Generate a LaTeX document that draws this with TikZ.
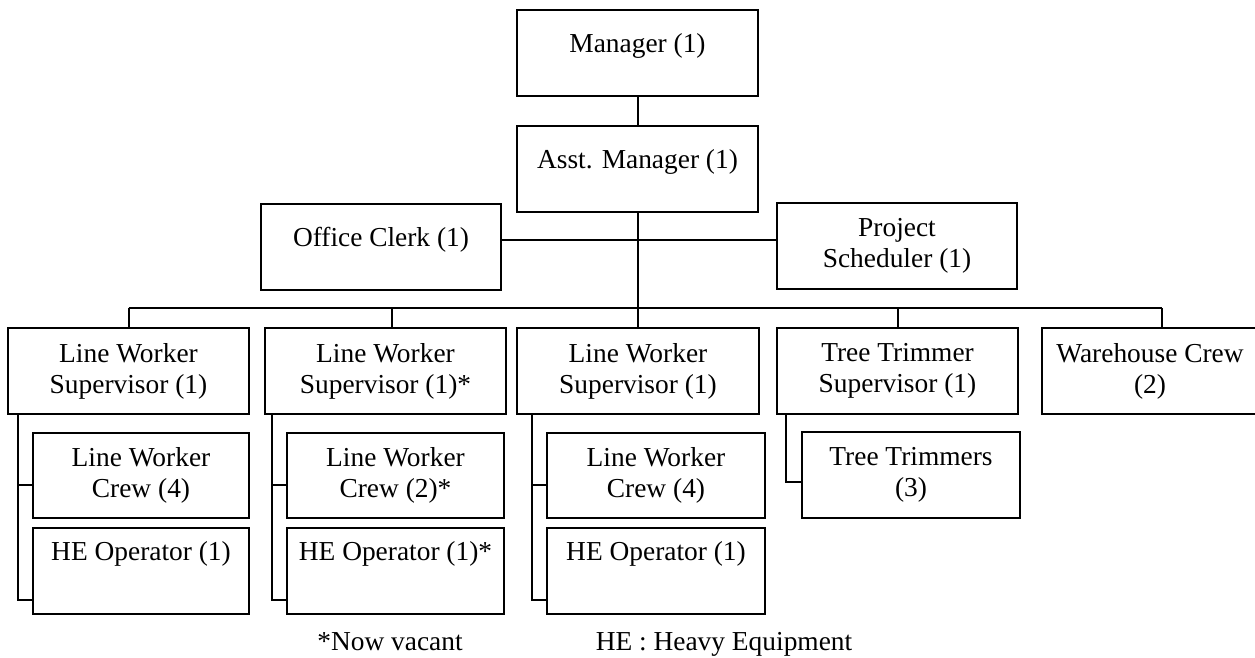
\documentclass[tikz,border=0pt]{standalone}
\usepackage{fontspec}
\setmainfont{Liberation Serif}
\usetikzlibrary{positioning}
\tikzset{
    mybox/.style = {rectangle, line width=2pt, draw=black, align=center, inner sep=0pt, minimum height=86pt, font=\fontsize{27.4pt}{31pt}\selectfont, text=black},
    myboxs/.style = {mybox, text height=19pt, text depth=19pt}, % one line
    mytext/.style = {inner sep=0pt, anchor=base, font=\fontsize{27.4pt}{31pt}\selectfont},
    edgen/.style = {-, line width=2pt, black}
}

\begin{document}
\begin{tikzpicture}[x=1pt,y=1pt]
\useasboundingbox (0,0) rectangle (1255,657);

\node[myboxs, minimum width=241pt] at ( 637.5, 604) (mgr) {Manager (1)};
\node[myboxs, minimum width=241pt] at ( 637.5, 488) (asst) {Asst. Manager (1)};
\node[myboxs, minimum width=240pt] at ( 381.0, 410) (clerk) {Office Clerk (1)};
\node[mybox, minimum width=240pt] at ( 897.0, 411) (sched) {Project\\Scheduler (1)};

\node[mybox, minimum width=241pt] at ( 128.5, 286) (lws1) {Line Worker\\Supervisor (1)};
\node[mybox, minimum width=241pt] at ( 385.5, 286) (lws2) {Line Worker\\Supervisor (1)*};
\node[mybox, minimum width=242pt] at ( 638.0, 286) (lws3) {Line Worker\\Supervisor (1)};
\node[mybox, minimum width=241pt] at ( 897.5, 286) (tts) {Tree Trimmer\\Supervisor (1)};
\node[mybox, minimum width=216pt] at (1150.0, 286) (wh) {Warehouse Crew\\(2)};

\node[mybox, minimum width=216pt, minimum height=85pt] at ( 141.0, 181.5) (lwc1) {Line Worker\\Crew (4)};
\node[mybox, minimum width=216pt] at ( 141.0,  86) (he1) {HE Operator (1)\\\strut};
\node[mybox, minimum width=217pt, minimum height=85pt] at ( 395.5, 181.5) (lwc2) {Line Worker\\Crew (2)*};
\node[mybox, minimum width=217pt] at ( 395.5,  86) (he2) {HE Operator (1)*\\\strut};
\node[mybox, minimum width=218pt, minimum height=85pt] at ( 656.0, 181.5) (lwc3) {Line Worker\\Crew (4)};
\node[mybox, minimum width=218pt] at ( 656.0,  86) (he3) {HE Operator (1)\\\strut};
\node[mybox, minimum width=218pt, minimum height=86pt] at ( 911.0, 182) (trim) {Tree Trimmers\\(3)};

\node[mytext] at (390, 7) (vac) {*Now vacant};
\node[mytext] at (724, 7) (he) {HE : Heavy Equipment};

% top part
\coordinate (hub) at (637.5, 417);
\coordinate (bus) at (637.5, 349);
\draw[edgen] (mgr) -- (asst);
\draw[edgen] (asst) -- (bus);
\draw[edgen] (clerk.east |- hub) -- (sched.west |- hub);

% bus to supervisors
\coordinate (lws2top) at ([xshift=6.5pt]lws2.north);
\coordinate (whtop) at ([xshift=12pt]wh.north);
\draw[edgen] (lws1.north |- bus) -- (whtop |- bus);
\draw[edgen] (lws1.north |- bus) -- (lws1.north);
\draw[edgen] (lws2top |- bus) -- (lws2top);
\draw[edgen] (lws3.north |- bus) -- (lws3.north);
\draw[edgen] (tts.north |- bus) -- (tts.north);
\draw[edgen] (whtop |- bus) -- (whtop);

% crews
\coordinate (s1) at ([xshift=11pt]lws1.south west);
\coordinate (s2) at ([xshift=8pt]lws2.south west);
\coordinate (s3) at ([xshift=16pt]lws3.south west);
\coordinate (s4) at ([xshift=10pt]tts.south west);
\coordinate (b1) at ([yshift=-9.5pt]lwc1.west);
\coordinate (b2) at ([yshift=-9.5pt]lwc2.west);
\coordinate (b3) at ([yshift=-9.5pt]lwc3.west);
\coordinate (b4) at ([yshift=-7pt]trim.west);
\draw[edgen] (s1) |- ([yshift=-29pt]he1.west);
\draw[edgen] (s1 |- b1) -- (b1);
\draw[edgen] (s2) |- ([yshift=-29pt]he2.west);
\draw[edgen] (s2 |- b2) -- (b2);
\draw[edgen] (s3) |- ([yshift=-29pt]he3.west);
\draw[edgen] (s3 |- b3) -- (b3);
\draw[edgen] (s4) |- (b4);

\end{tikzpicture}
\end{document}
